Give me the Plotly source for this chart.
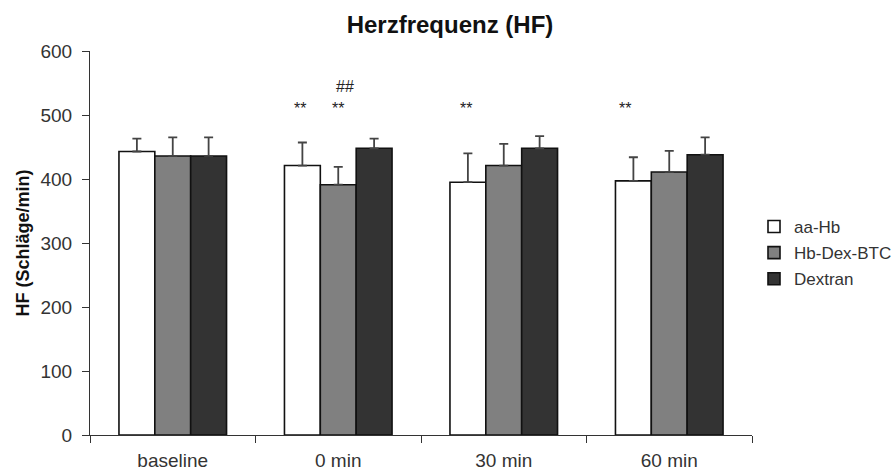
import plotly.graph_objects as go

# Heart rate (HF) per time point and group
categories = ["baseline", "0 min", "30 min", "60 min"]
series_names = ["aa-Hb", "Hb-Dex-BTC", "Dextran"]
aa_hb = [443, 421, 395, 397]
hb_dex_btc = [436, 391, 421, 411]
dextran = [436, 448, 448, 438]
aa_hb_sd = [20, 36, 45, 37]
hb_dex_btc_sd = [29, 28, 34, 33]
dextran_sd = [29, 15, 19, 27]
y_ticks = [0, 100, 200, 300, 400, 500, 600]

# Significance markers: (category index, bar offset, y value, text)
markers = [
    (1, -0.23, 510, "**"),
    (1, 0.0, 510, "**"),
    (1, 0.04, 544, "##"),
    (2, -0.23, 510, "**"),
    (3, -0.27, 510, "**"),
]

fills = ["#ffffff", "#808080", "#333333"]
values = [aa_hb, hb_dex_btc, dextran]
errors = [aa_hb_sd, hb_dex_btc_sd, dextran_sd]

font_family = "Liberation Sans, Arial, sans-serif"

fig = go.Figure()
for i, (name, vals, errs, col) in enumerate(zip(series_names, values, errors, fills)):
    fig.add_trace(go.Bar(
        x=categories, y=vals, name=name,
        marker=dict(color=col, line=dict(color="#111111", width=1.6)),
        error_y=dict(type="data", array=errs, symmetric=False, arrayminus=[0] * len(errs),
                     color="#444444", thickness=1.8, width=4.5),
        legendgroup=name,
    ))

for ci, off, yv, txt in markers:
    fig.add_annotation(x=ci + off, y=yv, xref="x", yref="y", text=txt, showarrow=False,
                       font=dict(family=font_family, size=16, color="#222222"))

fig.update_layout(
    width=892, height=475,
    margin=dict(l=90, r=140, t=51, b=40, autoexpand=False),
    paper_bgcolor="white", plot_bgcolor="white",
    barmode="group", bargap=0.35, bargroupgap=0,
    title=dict(text="<b>Herzfrequenz (HF)</b>", x=450 / 892, xanchor="center",
               y=1 - 25 / 475, yanchor="middle",
               font=dict(family=font_family, size=24, color="#111111")),
    font=dict(family=font_family, size=18, color="#333333"),
    legend=dict(x=(754 - 90) / 662, xanchor="left", y=1 - (253 - 51) / 384, yanchor="middle",
                font=dict(size=17, color="#333333"), tracegroupgap=1,
                itemwidth=30, bgcolor="rgba(0,0,0,0)"),
    showlegend=True,
)

fig.update_xaxes(
    showline=True, linecolor="#333333", linewidth=1.2,
    ticks="outside", tickson="boundaries", ticklen=7, tickcolor="#333333",
    showgrid=False, tickfont=dict(size=19, color="#333333"), ticklabelstandoff=8,
)
fig.update_yaxes(
    range=[0, 600], tickvals=y_ticks, showline=True, linecolor="#333333", linewidth=1.2,
    ticks="outside", ticklen=7, tickcolor="#333333", showgrid=False, zeroline=False,
    tickfont=dict(size=19, color="#333333"), ticklabelstandoff=6,
    title=dict(text="<b>HF (Schläge/min)</b>", font=dict(size=18, color="#111111"), standoff=6),
)

fig.write_html("out.html")
